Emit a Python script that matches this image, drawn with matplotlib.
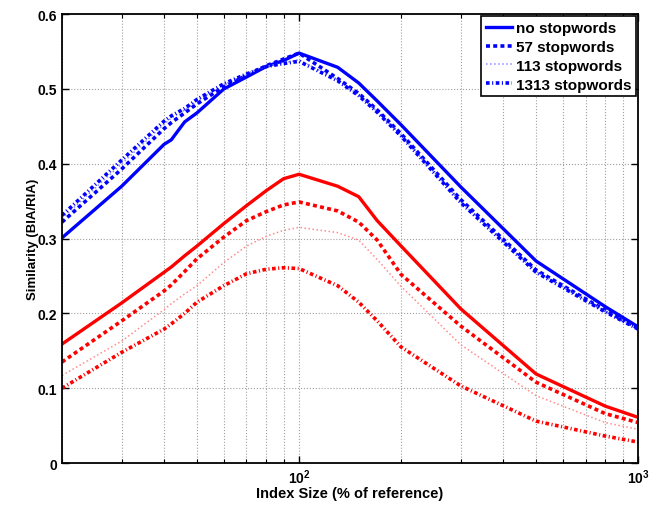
"""Similarity vs. index size for several stopword lists (BIA/RIA)."""

import math

import matplotlib
matplotlib.use("Agg")
import matplotlib.pyplot as plt
from matplotlib.ticker import FixedLocator, FuncFormatter, LogLocator, NullFormatter

plt.rcParams["font.family"] = ["Liberation Sans", "DejaVu Sans"]
plt.rcParams["font.weight"] = "bold"
plt.rcParams["mathtext.fontset"] = "custom"
plt.rcParams["mathtext.bf"] = "Liberation Sans:bold"
plt.rcParams["mathtext.rm"] = "Liberation Sans:bold"

# index size (% of reference)
x_sizes = [20, 30, 40, 42, 46, 50, 60, 70, 80, 90, 100, 130, 150, 170, 200, 300, 500, 800, 1000]

# upper group (blue)
blue_none = [0.301, 0.370, 0.426, 0.432, 0.456, 0.468, 0.500, 0.516, 0.530, 0.538, 0.548,
             0.529, 0.508, 0.484, 0.452, 0.369, 0.270, 0.209, 0.182]
blue_57   = [0.322, 0.393, 0.447, 0.455, 0.468, 0.480, 0.503, 0.518, 0.531, 0.540, 0.548,
             0.514, 0.494, 0.472, 0.440, 0.352, 0.258, 0.204, 0.180]
blue_113  = [0.327, 0.400, 0.453, 0.461, 0.472, 0.484, 0.506, 0.520, 0.530, 0.535, 0.539,
             0.512, 0.492, 0.470, 0.438, 0.349, 0.256, 0.203, 0.180]
blue_1313 = [0.331, 0.405, 0.457, 0.464, 0.474, 0.486, 0.507, 0.520, 0.530, 0.534, 0.537,
             0.511, 0.491, 0.469, 0.437, 0.348, 0.255, 0.202, 0.179]

# lower group (red)
red_none = [0.159, 0.214, 0.255, 0.262, 0.277, 0.290, 0.320, 0.344, 0.364, 0.380, 0.386,
            0.370, 0.356, 0.324, 0.290, 0.206, 0.119, 0.076, 0.061]
red_57   = [0.135, 0.190, 0.230, 0.238, 0.256, 0.273, 0.302, 0.324, 0.336, 0.345, 0.349,
            0.337, 0.322, 0.298, 0.252, 0.183, 0.108, 0.066, 0.054]
red_113  = [0.117, 0.163, 0.205, 0.213, 0.226, 0.237, 0.268, 0.290, 0.303, 0.311, 0.315,
            0.308, 0.298, 0.272, 0.236, 0.158, 0.090, 0.054, 0.045]
red_1313 = [0.100, 0.148, 0.179, 0.186, 0.200, 0.215, 0.237, 0.253, 0.259, 0.261, 0.260,
            0.237, 0.215, 0.190, 0.155, 0.103, 0.056, 0.036, 0.028]

LABELS = ["no stopwords", "57 stopwords", "113 stopwords", "1313 stopwords"]

BLUE = "#0000ff"
RED = "#ff0000"
BLUE_LIGHT = "#8c8cff"
RED_LIGHT = "#ff8c8c"

DASHED = (0, (1.1, 0.9))
DASHDOT = (0, (1.0, 0.7, 0.3, 0.7))

fig = plt.figure(figsize=(6.63, 5.06), dpi=100)
ax = fig.add_axes([0.0935, 0.083, 0.869, 0.887])

ax.plot(x_sizes, blue_none, color=BLUE, lw=2.4, label=LABELS[0])
ax.plot(x_sizes, blue_57, color=BLUE, lw=2.6, linestyle=DASHED, label=LABELS[1])
ax.plot(x_sizes, blue_113, color=BLUE_LIGHT, lw=1.1, linestyle=":", label=LABELS[2])
ax.plot(x_sizes, blue_1313, color=BLUE, lw=2.6, linestyle=DASHDOT, label=LABELS[3])

ax.plot(x_sizes, red_none, color=RED, lw=2.4)
ax.plot(x_sizes, red_57, color=RED, lw=2.6, linestyle=DASHED)
ax.plot(x_sizes, red_113, color=RED_LIGHT, lw=1.1, linestyle=":")
ax.plot(x_sizes, red_1313, color=RED, lw=2.6, linestyle=DASHDOT)

ax.set_xscale("log")
ax.set_xlim(20, 1000)
ax.set_ylim(0, 0.6)
ax.set_yticks([0, 0.1, 0.2, 0.3, 0.4, 0.5, 0.6])
ax.yaxis.set_major_formatter(FuncFormatter(lambda v, _: f"{v:g}"))
ax.xaxis.set_major_locator(FixedLocator([100, 1000]))
ax.xaxis.set_major_formatter(
    FuncFormatter(lambda v, _: r"$\mathbf{10^{%d}}$" % round(math.log10(v)))
)
ax.xaxis.set_minor_locator(LogLocator(base=10, subs=range(2, 10), numticks=20))
ax.xaxis.set_minor_formatter(NullFormatter())

ax.grid(True, which="major", linestyle=":", color="#a0a0a0", lw=0.8)
ax.grid(True, which="minor", axis="x", linestyle=":", color="#a0a0a0", lw=0.8)
ax.tick_params(which="both", direction="in", top=True, right=True, labelsize=10)
ax.tick_params(which="major", length=5, width=1)
ax.tick_params(which="minor", length=3, width=0.8)
for sp in ax.spines.values():
    sp.set_linewidth(1.3)

ax.set_xlabel("Index Size (% of reference)", fontsize=10.5, fontweight="bold", labelpad=0)
ax.set_ylabel("Similarity (BIA/RIA)", fontsize=9.5, fontweight="bold", labelpad=-1)

leg = ax.legend(loc="upper right", fontsize=11, handlelength=1.7, handletextpad=0.25,
                borderpad=0.3, labelspacing=0.32, fancybox=False, framealpha=1,
                borderaxespad=0.15)
leg.get_frame().set_edgecolor("black")
leg.get_frame().set_linewidth(1.2)
for t in leg.get_texts():
    t.set_fontweight("bold")

fig.savefig("out.png", dpi=100)
